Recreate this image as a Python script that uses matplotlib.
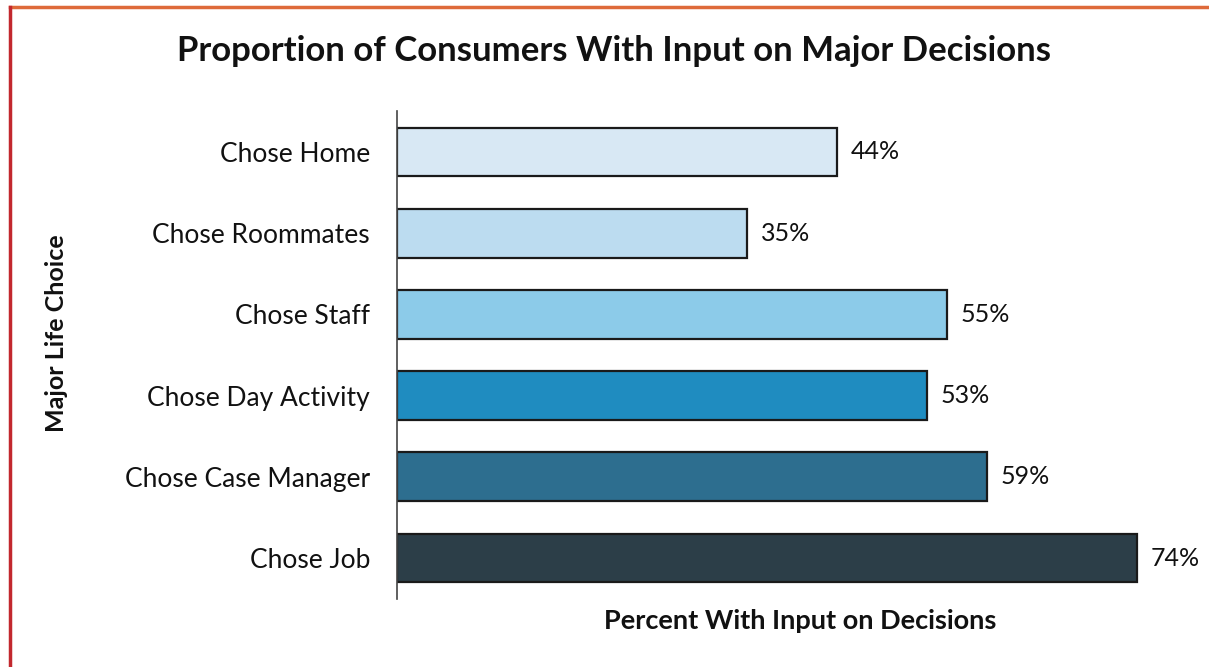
import matplotlib.pyplot as plt
from matplotlib.lines import Line2D

categories = ["Chose Home", "Chose Roommates", "Chose Staff",
              "Chose Day Activity", "Chose Case Manager", "Chose Job"]
percent = [44, 35, 55, 53, 59, 74]
colors = ["#d8e8f4", "#bcdcf0", "#8ccbe9", "#1f8cc0", "#2d6e8f", "#2c3e48"]

plt.rcParams['font.family'] = ['Lato', 'DejaVu Sans']

fig = plt.figure(figsize=(12.09, 6.67), dpi=100)
ax = fig.add_axes([0.3284, 0.1025, 0.6616, 0.7305])

ypos = list(range(len(categories)))
ax.barh(ypos, percent, height=0.6, color=colors, edgecolor="#1a1a1a", linewidth=1.6)
for y, v in zip(ypos, percent):
    ax.text(v + 1.4, y, "{}%".format(v), va="center", ha="left", fontsize=18, color="#111111")

ax.set_xlim(0, 80)
ax.set_ylim(5.5, -0.5)
ax.set_yticks(ypos)
ax.set_yticklabels(categories, fontsize=19, color="#111111")
ax.tick_params(axis="y", length=0, pad=19.5)
ax.set_xticks([])
for s in ["top", "right", "bottom"]:
    ax.spines[s].set_visible(False)
ax.spines["left"].set_color("#444444")
ax.spines["left"].set_linewidth(1.2)

fig.text(614 / 1209, 1 - 51 / 667, "Proportion of Consumers With Input on Major Decisions",
         ha="center", va="center", fontsize=25, fontweight="bold", color="#111111")
fig.text(57 / 1209, 1 - 333 / 667, "Major Life Choice", rotation=90,
         ha="center", va="center", fontsize=18, fontweight="bold", color="#111111")
fig.text(800 / 1209, 1 - 621 / 667, "Percent With Input on Decisions",
         ha="center", va="center", fontsize=19.5, fontweight="bold", color="#111111")

# scanned frame edges
fig.add_artist(Line2D([10 / 1209, 1], [1 - 7 / 667, 1 - 7 / 667], color="#de6a3a", lw=2.5))
fig.add_artist(Line2D([10 / 1209, 10 / 1209], [0, 1 - 7 / 667], color="#c2282e", lw=2.5))

fig.savefig("out.png", dpi=100, facecolor="white")
